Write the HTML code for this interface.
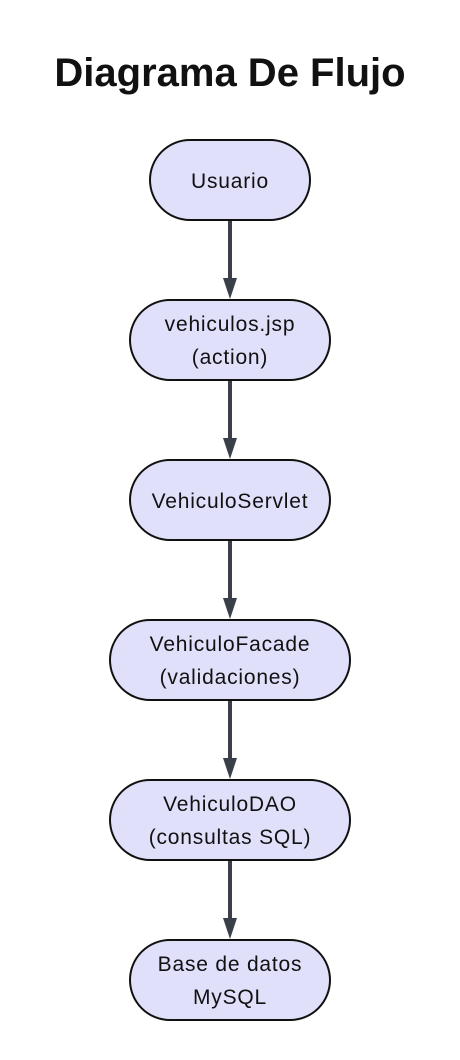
<!DOCTYPE html>
<html><head><meta charset="utf-8"><style>
html,body{margin:0;padding:0;background:#fff;width:460px;height:1060px;overflow:hidden}
svg text{font-family:"Liberation Sans",Arial,sans-serif;fill:#111}
</style></head><body>
<svg width="460" height="1060" viewBox="0 0 460 1060" xmlns="http://www.w3.org/2000/svg">
<text x="230" y="86" text-anchor="middle" font-size="40" font-weight="bold" fill="#000">Diagrama De Flujo</text>
<g stroke="#3a3f4a" stroke-width="4">
<line x1="230" y1="220" x2="230" y2="282"/>
<line x1="230" y1="380" x2="230" y2="442"/>
<line x1="230" y1="540" x2="230" y2="602"/>
<line x1="230" y1="700" x2="230" y2="762"/>
<line x1="230" y1="860" x2="230" y2="922"/>
</g>
<g fill="#3a3f4a">
<polygon points="223,278 237,278 230,299"/>
<polygon points="223,438 237,438 230,459"/>
<polygon points="223,598 237,598 230,619"/>
<polygon points="223,758 237,758 230,779"/>
<polygon points="223,918 237,918 230,939"/>
</g>
<g fill="#e0e0fb" stroke="#111" stroke-width="2">
<rect x="150" y="140" width="160" height="80" rx="40"/>
<rect x="130" y="300" width="200" height="80" rx="40"/>
<rect x="130" y="460" width="200" height="80" rx="40"/>
<rect x="110" y="620" width="240" height="80" rx="40"/>
<rect x="110" y="780" width="240" height="80" rx="40"/>
<rect x="130" y="940" width="200" height="80" rx="40"/>
</g>
<g font-size="21" text-anchor="middle" letter-spacing="0.8">
<text x="230" y="188">Usuario</text>
<text x="230" y="331">vehiculos.jsp</text>
<text x="230" y="364">(action)</text>
<text x="230" y="508">VehiculoServlet</text>
<text x="230" y="651">VehiculoFacade</text>
<text x="230" y="684">(validaciones)</text>
<text x="230" y="811">VehiculoDAO</text>
<text x="230" y="844">(consultas SQL)</text>
<text x="230" y="971">Base de datos</text>
<text x="230" y="1004">MySQL</text>
</g>
</svg>
</body></html>
